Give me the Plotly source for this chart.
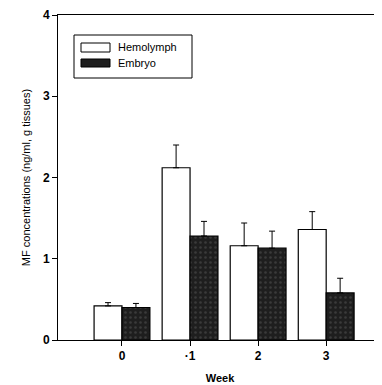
import plotly.graph_objects as go

weeks = ["0", "·1", "2", "3"]
hemolymph = [0.42, 2.12, 1.16, 1.36]
hemolymph_err = [0.04, 0.28, 0.28, 0.22]
embryo = [0.40, 1.28, 1.13, 0.58]
embryo_err = [0.05, 0.18, 0.21, 0.18]
y_ticks = [0, 1, 2, 3, 4]

OFF = 8  # page body margin

fig = go.Figure()
fig.add_trace(go.Bar(
    x=weeks, y=hemolymph, name="Hemolymph",
    marker=dict(color="white", line=dict(color="black", width=1.2)),
    error_y=dict(type="data", symmetric=False, array=hemolymph_err,
                 arrayminus=[0] * len(hemolymph), color="black", thickness=1, width=3),
))
fig.add_trace(go.Bar(
    x=weeks, y=embryo, name="Embryo",
    marker=dict(color="#1e1e1e", line=dict(color="black", width=1.2),
                pattern=dict(shape=".", fgcolor="#555555", size=5, solidity=0.2)),
    error_y=dict(type="data", symmetric=False, array=embryo_err,
                 arrayminus=[0] * len(embryo), color="black", thickness=1, width=3),
))

fig.update_layout(
    width=382 - OFF, height=385 - OFF,
    margin=dict(l=58 - OFF, r=0, t=15 - OFF, b=45),
    paper_bgcolor="white", plot_bgcolor="white",
    barmode="group", bargap=0.18, bargroupgap=0,
    showlegend=False,
    font=dict(family="Liberation Sans, Arial", color="black"),
    xaxis=dict(
        range=[-0.94, 3.82], showgrid=False, zeroline=False,
        showline=True, linecolor="black", linewidth=1, mirror=True,
        ticks="outside", ticklen=5, tickcolor="black",
        tickfont=dict(size=12, weight="bold"),
        title=dict(text="Week", font=dict(size=11, weight="bold"), standoff=11),
    ),
    yaxis=dict(
        range=[0, 4], tickvals=y_ticks, showgrid=False, zeroline=False,
        showline=True, linecolor="black", linewidth=1,
        ticks="outside", ticklen=5, tickcolor="black",
        tickfont=dict(size=12, weight="bold"),
        title=dict(text="MF concentrations (ng/ml, g tissues)", font=dict(size=11), standoff=10),
    ),
)

# Legend box drawn in paper coordinates
def px_x(x):
    return (x - 58) / 324

def px_y(y):
    return (340 - y) / 325

fig.add_shape(type="rect", xref="paper", yref="paper",
              x0=px_x(74), x1=px_x(192), y0=px_y(78), y1=px_y(35),
              line=dict(color="black", width=1), fillcolor="white")
fig.add_shape(type="rect", xref="paper", yref="paper",
              x0=px_x(81), x1=px_x(110), y0=px_y(52), y1=px_y(43),
              line=dict(color="black", width=1), fillcolor="white")
fig.add_shape(type="rect", xref="paper", yref="paper",
              x0=px_x(81), x1=px_x(110), y0=px_y(67), y1=px_y(59),
              line=dict(color="black", width=1), fillcolor="#1e1e1e")
fig.add_annotation(xref="paper", yref="paper", x=px_x(116), y=px_y(47.5),
                   text="Hemolymph", showarrow=False, xanchor="left", yanchor="middle",
                   font=dict(size=11))
fig.add_annotation(xref="paper", yref="paper", x=px_x(116), y=px_y(63),
                   text="Embryo", showarrow=False, xanchor="left", yanchor="middle",
                   font=dict(size=11))

fig.write_html("out.html")
